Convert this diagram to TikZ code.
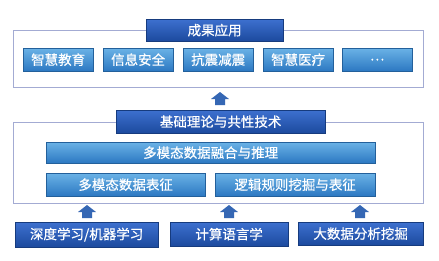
\documentclass[tikz,border=0pt]{standalone}
\usepackage{fontspec}
\setmainfont{Noto Sans CJK SC}[FakeBold=0.5]
\usetikzlibrary{shadows}
\definecolor{darkA}{HTML}{3D70CF}
\definecolor{darkB}{HTML}{1C4A9E}
\definecolor{lightA}{HTML}{6AB2E6}
\definecolor{lightB}{HTML}{2C78C2}
\definecolor{framec}{HTML}{A3ABD3}
\definecolor{arrowc}{HTML}{3567B4}
\tikzset{
  frame/.style={draw=framec, line width=0.8pt},
  darkbox/.style={draw=darkB!80!black, line width=0.3pt, top color=darkA, bottom color=darkB, text=white, inner sep=0pt, anchor=north west, font=\fontsize{13.5}{13.5}\selectfont},
  lightbox/.style={draw=lightB!80!black, line width=0.3pt, top color=lightA, bottom color=lightB, text=white, inner sep=0pt, anchor=north west, font=\fontsize{13.5}{13.5}\selectfont, drop shadow={shadow xshift=0.8pt, shadow yshift=-0.8pt, opacity=0.3}},
  blockarrow/.style={fill=arrowc, draw=none}
}
\begin{document}
\begin{tikzpicture}[x=1pt,y=-1pt]
\useasboundingbox[fill=white] (0,0) rectangle (439,260);
% frames
\draw[frame] (13,30) rectangle (423,87);
\draw[frame] (13,122) rectangle (423,203);
% top title
\node[darkbox, minimum width=137pt, minimum height=22pt] (cg) at (146,19) {成果应用};
% apps
\node[lightbox, minimum width=70pt, minimum height=23pt] (a1) at (23,48) {智慧教育};
\node[lightbox, minimum width=70pt, minimum height=23pt] (a2) at (103,48) {信息安全};
\node[lightbox, minimum width=70pt, minimum height=23pt] (a3) at (183,48) {抗震减震};
\node[lightbox, minimum width=70pt, minimum height=23pt] (a4) at (263,48) {智慧医疗};
\node[lightbox, minimum width=70pt, minimum height=23pt] (a5) at (342,48) {…};
% middle title
\node[darkbox, minimum width=209pt, minimum height=23pt] (jc) at (116,110) {基础理论与共性技术};
\node[lightbox, minimum width=329pt, minimum height=21pt] (rh) at (46,142) {多模态数据融合与推理};
\node[lightbox, minimum width=159pt, minimum height=23pt] (bz) at (46,173) {多模态数据表征};
\node[lightbox, minimum width=160pt, minimum height=23pt] (lj) at (215,173) {逻辑规则挖掘与表征};
% bottom
\node[darkbox, minimum width=143pt, minimum height=25pt] (b1) at (15,222) {深度学习/机器学习};
\node[darkbox, minimum width=118pt, minimum height=24pt] (b2) at (170,222) {计算语言学};
\node[darkbox, minimum width=125pt, minimum height=23pt] (b3) at (298,222) {大数据分析挖掘};
% block arrows
\foreach \cx/\ty in {220/92, 87/205, 229/205, 360/205}{
  \fill[blockarrow] (\cx,\ty) -- (\cx+9,\ty+7) -- (\cx+5,\ty+7) -- (\cx+5,\ty+13) -- (\cx-5,\ty+13) -- (\cx-5,\ty+7) -- (\cx-9,\ty+7) -- cycle;
}
\end{tikzpicture}
\end{document}
